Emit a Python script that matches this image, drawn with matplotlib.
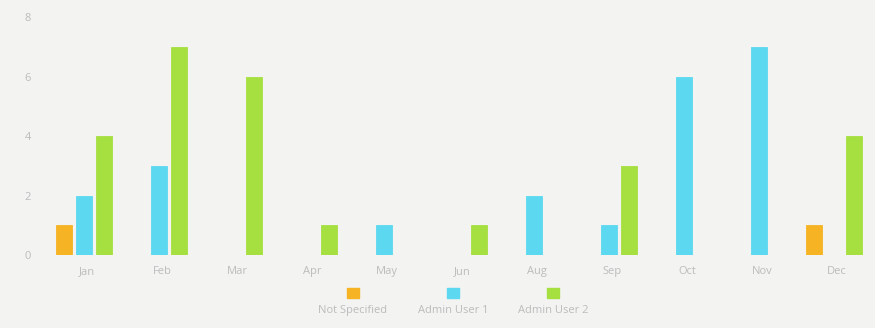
import matplotlib
matplotlib.use("Agg")
import matplotlib.pyplot as plt
from matplotlib.patches import Rectangle
import numpy as np

months = ["Jan", "Feb", "Mar", "Apr", "May", "Jun", "Aug", "Sep", "Oct", "Nov", "Dec"]
series_names = ["Not Specified", "Admin User 1", "Admin User 2"]
not_specified = [1, 0, 0, 0, 0, 0, 0, 0, 0, 0, 1]
admin_user_1 = [2, 3, 0, 0, 1, 0, 2, 1, 6, 7, 0]
admin_user_2 = [4, 7, 6, 1, 0, 1, 0, 3, 0, 0, 4]
y_ticks = [0, 2, 4, 6, 8]

colors = ["#f6b324", "#5cd9f0", "#a6df40"]
bg = "#f3f3f2"
txt = "#bcbcbc"

plt.rcParams['font.family'] = ['Open Sans', 'DejaVu Sans']

fig = plt.figure(figsize=(8.75, 3.28), dpi=100, facecolor=bg)
ax = fig.add_axes([0.051, 0.2226, 0.943, 0.7254])
ax.set_facecolor(bg)

x = np.arange(len(months))
step = 0.267
width = 0.21
for i, (vals, c) in enumerate(zip([not_specified, admin_user_1, admin_user_2], colors)):
    ax.bar(x + (i - 1) * step, vals, width=width, color=c, edgecolor=c, linewidth=0.6)

ax.set_xlim(-0.53, 10.48)
ax.set_ylim(0, 8)
ax.set_yticks(y_ticks)
ax.set_yticklabels([str(t) for t in y_ticks])
ax.set_xticks(x + 0.04)
ax.set_xticklabels(months)
for s in ax.spines.values():
    s.set_visible(False)
ax.tick_params(length=0, colors=txt, labelsize=8)
ax.tick_params(axis='y', pad=10)
ax.tick_params(axis='x', pad=8)

# legend: squares with text beneath
leg_x = [353, 453, 553]
for name, c, px in zip(series_names, colors, leg_x):
    fx = px / 875
    fig.add_artist(Rectangle((fx - 6 / 875, 1 - 298 / 328), 12 / 875, 10 / 328,
                             transform=fig.transFigure, color=c))
    fig.text(fx, 1 - 313 / 328, name, ha='center', va='baseline', color=txt, fontsize=8)

fig.savefig("out.png", dpi=100, facecolor=bg)
